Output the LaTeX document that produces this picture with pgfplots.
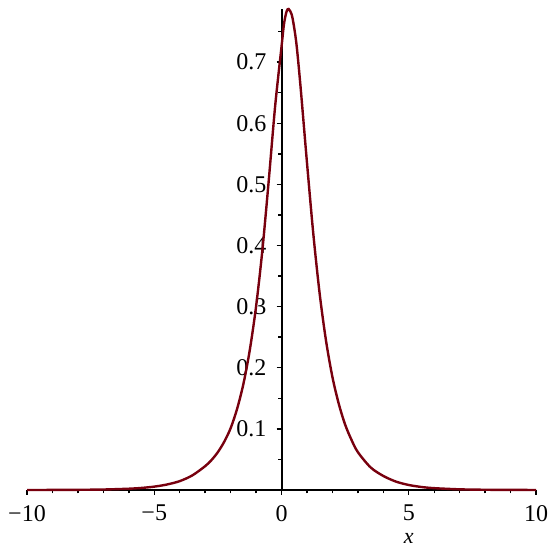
\documentclass[border=0pt]{standalone}
\usepackage{pgfplots}
\pgfplotsset{compat=1.18}
\usepackage{fontspec}
\setmainfont{Liberation Serif}
\definecolor{maplered}{RGB}{120,0,14}
\pgfplotstableread{
x y
-10 0.00003
-9 0.0001
-8 0.0003
-7 0.0008
-6 0.0021
-5.5 0.0034
-5 0.0055
-4.5 0.009
-4 0.0145
-3.5 0.024
-3 0.039
-2.75 0.049
-2.5 0.062
-2.25 0.079
-2 0.101
-1.75 0.132
-1.5 0.173
-1.25 0.228
-1 0.300
-0.75 0.393
-0.5 0.507
-0.25 0.628
0 0.725
0.1 0.763
0.2 0.783
0.28 0.787
0.4 0.778
0.5 0.756
0.6 0.725
0.75 0.659
1.0 0.536
1.25 0.419
1.5 0.321
1.75 0.244
2.0 0.185
2.25 0.141
2.5 0.107
2.75 0.082
3.0 0.062
3.5 0.037
4.0 0.023
4.5 0.0137
5.0 0.0082
5.5 0.0049
6 0.003
7 0.0011
8 0.0004
9 0.00015
10 0.00005
}\curvedata
\begin{document}
\begin{tikzpicture}
\begin{axis}[
  scale only axis,
  width=254.5pt, height=240.5pt,
  axis lines=middle,
  axis line style={-, line width=1pt},
  xmin=-10, xmax=10, ymin=0, ymax=0.787,
  clip=false,
  xtick={-10,-5,0,5,10},
  xticklabels={−10,−5,0,5,10},
  minor xtick={-9,-8,-7,-6,-4,-3,-2,-1,1,2,3,4,6,7,8,9},
  ytick={0.1,0.2,0.3,0.4,0.5,0.6,0.7},
  yticklabels={0.1,0.2,0.3,0.4,0.5,0.6,0.7},
  minor ytick={0.05,0.15,0.25,0.35,0.45,0.55,0.65,0.75},
  hide obscured x ticks=false,
  tick align=outside,
  major tick length=2.5pt,
  minor tick length=1.7pt,
  every tick/.style={black, line width=0.7pt},
  tick label style={font=\fontsize{12}{14}\selectfont},
  xticklabel style={yshift=-1.5pt},
  yticklabel style={xshift=-1.5pt},
  xlabel={\textit{x}},
  every axis x label/.style={at={(rel axis cs:0.75,0)}, anchor=center, yshift=-24pt, font=\fontsize{11}{13}\selectfont},
]
\addplot[smooth, color=maplered, line width=1.2pt] table[x=x,y=y] {\curvedata};
\end{axis}
\pgfresetboundingbox
\path[use as bounding box] (-13.5pt,-29.5pt) rectangle (261.5pt,245pt);
\end{tikzpicture}
\end{document}
